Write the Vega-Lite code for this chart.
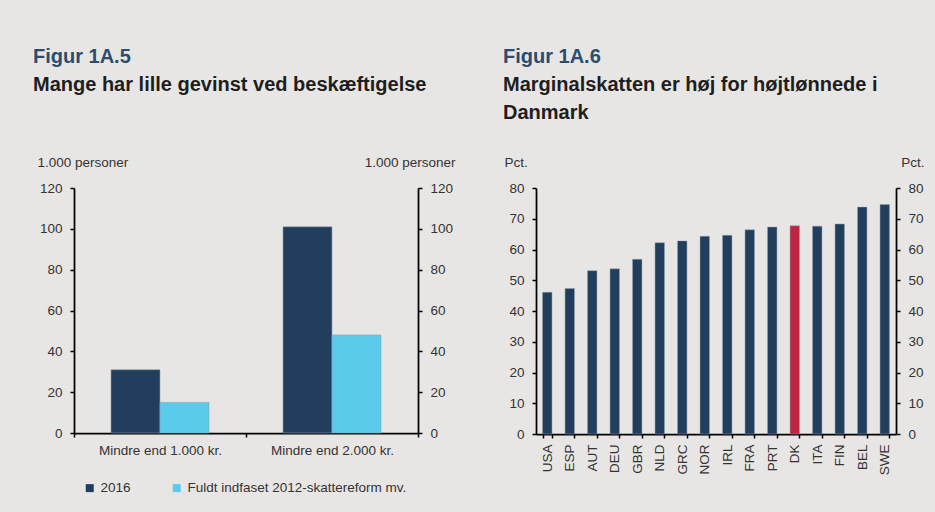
{
  "$schema": "https://vega.github.io/schema/vega-lite/v6.json",
  "background": "#e8e6e4",
  "padding": {"left": 33, "top": 47, "right": 11, "bottom": 19},
  "spacing": 48,
  "resolve": {"scale": {"color": "independent"}, "legend": {"color": "independent"}},
  "config": {
    "font": "Liberation Sans",
    "view": {"stroke": null},
    "axis": {
      "domainColor": "#000000",
      "domainWidth": 1.75,
      "tickColor": "#000000",
      "tickWidth": 1.5,
      "tickSize": 4,
      "labelFont": "Liberation Sans",
      "labelFontSize": 13.5,
      "labelColor": "#333333",
      "labelPadding": 8,
      "titleFont": "Liberation Sans",
      "titleFontSize": 13.5,
      "titleFontWeight": "normal",
      "titleColor": "#333333",
      "grid": false
    },
    "title": {
      "font": "Liberation Sans",
      "fontSize": 20,
      "fontWeight": "bold",
      "color": "#2a4d6f",
      "subtitleFont": "Liberation Sans",
      "subtitleFontSize": 20,
      "subtitleFontWeight": "bold",
      "subtitleColor": "#1e1e1e",
      "subtitlePadding": 8,
      "subtitleLineHeight": 28
    },
    "legend": {
      "labelFont": "Liberation Sans",
      "labelFontSize": 13.5,
      "labelColor": "#333333",
      "labelLimit": 400
    }
  },
  "hconcat": [
    {
      "width": 344,
      "height": 245,
      "title": {
        "text": "Figur 1A.5",
        "subtitle": "Mange har lille gevinst ved beskæftigelse",
        "anchor": "start",
        "frame": "group",
        "dx": -41,
        "offset": 60
      },
      "data": {
        "values": [
          {"category": "Mindre end 1.000 kr.", "series": "2016", "value": 31},
          {"category": "Mindre end 1.000 kr.", "series": "Fuldt indfaset 2012-skattereform mv.", "value": 15},
          {"category": "Mindre end 2.000 kr.", "series": "2016", "value": 101},
          {"category": "Mindre end 2.000 kr.", "series": "Fuldt indfaset 2012-skattereform mv.", "value": 48}
        ]
      },
      "layer": [
        {
          "mark": {"type": "bar", "stroke": "#8fa0b2", "strokeWidth": 0.6},
          "encoding": {
            "x": {
              "field": "category", "type": "nominal", "sort": null,
              "scale": {"paddingInner": 0, "paddingOuter": 0},
              "axis": {"title": null, "labelAngle": 0, "tickBand": "extent", "labelPadding": 6}
            },
            "xOffset": {
              "field": "series", "type": "nominal", "sort": null,
              "scale": {"paddingInner": 0, "paddingOuter": 0.755}
            },
            "y": {
              "field": "value", "type": "quantitative",
              "scale": {"domain": [0, 120]},
              "axis": {
                "values": [0, 20, 40, 60, 80, 100, 120],
                "title": "1.000 personer",
                "titleAngle": 0, "titleAlign": "left", "titleBaseline": "alphabetic",
                "titleX": -37, "titleY": -22
              }
            },
            "color": {
              "field": "series", "type": "nominal", "sort": null,
              "scale": {"domain": ["2016", "Fuldt indfaset 2012-skattereform mv."], "range": ["#213f5c", "#5bcbeb"]},
              "legend": {
                "title": null, "orient": "bottom", "direction": "horizontal",
                "symbolType": "square", "symbolSize": 64, "symbolStrokeWidth": 0,
                "columnPadding": 39, "labelOffset": 4, "offset": 15, "padding": 9
              }
            }
          }
        },
        {
          "mark": {"type": "bar", "opacity": 0},
          "encoding": {
            "x": {"field": "category", "type": "nominal", "sort": null},
            "xOffset": {"field": "series", "type": "nominal", "sort": null},
            "y": {
              "field": "value", "type": "quantitative",
              "scale": {"domain": [0, 120]},
              "axis": {
                "orient": "right",
                "values": [0, 20, 40, 60, 80, 100, 120],
                "title": "1.000 personer",
                "titleAngle": 0, "titleAlign": "right", "titleBaseline": "alphabetic",
                "titleX": 37, "titleY": -22
              }
            }
          }
        }
      ],
      "resolve": {"axis": {"y": "independent"}}
    },
    {
      "width": 360,
      "height": 246,
      "title": {
        "text": "Figur 1A.6",
        "subtitle": ["Marginalskatten er høj for højtlønnede i", "Danmark"],
        "anchor": "start",
        "frame": "group",
        "dx": -33,
        "offset": 32
      },
      "data": {
        "values": [
          {"country": "USA", "group": "Andre", "value": 46.1},
          {"country": "ESP", "group": "Andre", "value": 47.3},
          {"country": "AUT", "group": "Andre", "value": 53.1},
          {"country": "DEU", "group": "Andre", "value": 53.7},
          {"country": "GBR", "group": "Andre", "value": 56.8},
          {"country": "NLD", "group": "Andre", "value": 62.2},
          {"country": "GRC", "group": "Andre", "value": 62.8},
          {"country": "NOR", "group": "Andre", "value": 64.3},
          {"country": "IRL", "group": "Andre", "value": 64.6},
          {"country": "FRA", "group": "Andre", "value": 66.4},
          {"country": "PRT", "group": "Andre", "value": 67.3},
          {"country": "DK", "group": "DK", "value": 67.7},
          {"country": "ITA", "group": "Andre", "value": 67.6},
          {"country": "FIN", "group": "Andre", "value": 68.3},
          {"country": "BEL", "group": "Andre", "value": 73.8},
          {"country": "SWE", "group": "Andre", "value": 74.6}
        ]
      },
      "layer": [
        {
          "mark": {"type": "bar", "stroke": "#8fa0b2", "strokeWidth": 0.5},
          "encoding": {
            "x": {
              "field": "country", "type": "nominal", "sort": null,
              "scale": {"paddingInner": 0.58, "paddingOuter": 0.29},
              "axis": {"title": null, "labelAngle": -90, "tickBand": "extent", "labelPadding": 6}
            },
            "y": {
              "field": "value", "type": "quantitative",
              "scale": {"domain": [0, 80]},
              "axis": {
                "values": [0, 10, 20, 30, 40, 50, 60, 70, 80],
                "title": "Pct.",
                "titleAngle": 0, "titleAlign": "left", "titleBaseline": "alphabetic",
                "titleX": -32, "titleY": -22
              }
            },
            "color": {
              "field": "group", "type": "nominal",
              "scale": {"domain": ["Andre", "DK"], "range": ["#213f5c", "#c02443"]},
              "legend": null
            }
          }
        },
        {
          "mark": {"type": "bar", "opacity": 0},
          "encoding": {
            "x": {"field": "country", "type": "nominal", "sort": null},
            "y": {
              "field": "value", "type": "quantitative",
              "scale": {"domain": [0, 80]},
              "axis": {
                "orient": "right",
                "values": [0, 10, 20, 30, 40, 50, 60, 70, 80],
                "title": "Pct.",
                "titleAngle": 0, "titleAlign": "right", "titleBaseline": "alphabetic",
                "titleX": 28, "titleY": -22
              }
            }
          }
        }
      ],
      "resolve": {"axis": {"y": "independent"}}
    }
  ]
}
